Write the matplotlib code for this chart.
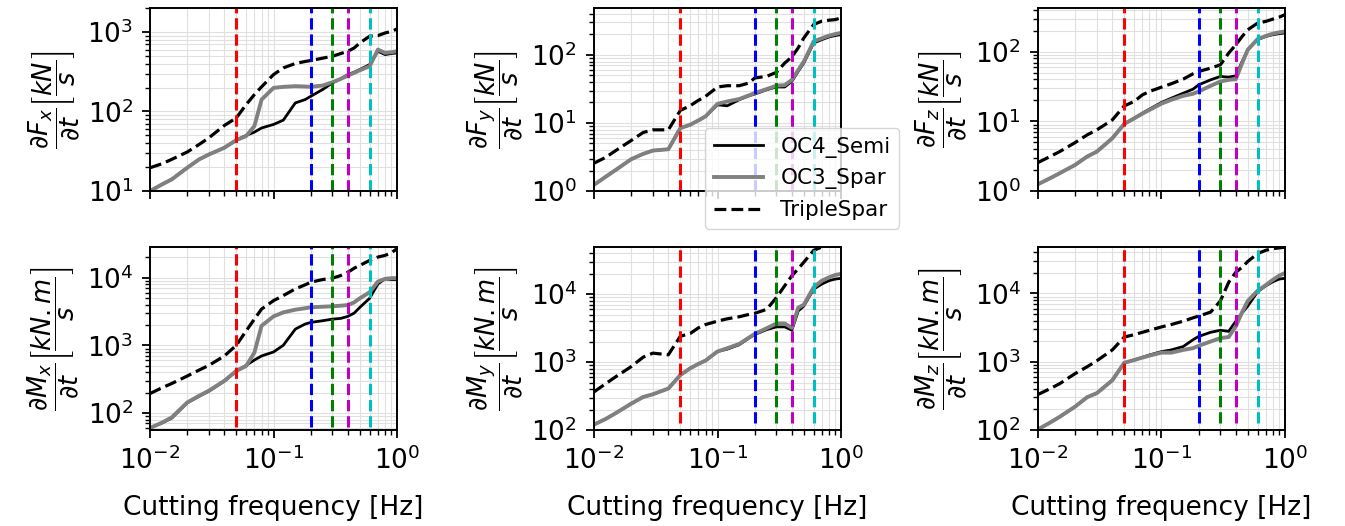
import matplotlib
matplotlib.use("Agg")
import matplotlib.pyplot as plt
import numpy as np

# ---------------- data ----------------
freq = [0.01, 0.0125, 0.015, 0.02, 0.025, 0.03, 0.04, 0.05, 0.06, 0.07, 0.08,
        0.1, 0.12, 0.15, 0.18, 0.2, 0.25, 0.3, 0.35, 0.4, 0.45, 0.5, 0.6,
        0.7, 0.8, 0.9, 1.0]

cut_freqs = [0.05, 0.2, 0.3, 0.4, 0.6]
cut_colors = ['r', 'b', 'g', 'm', 'c']

series_names = ['OC4_Semi', 'OC3_Spar', 'TripleSpar']

# dFx/dt [kN/s]
fx_semi = [10, 12.1, 14, 19.6, 25, 28.8, 35, 43.7, 50, 55, 62, 68.7, 77.8, 128,
           141, 155, 189, 229, 257, 291, 312, 337, 389, 572, 519, 535, 545]
fx_spar = [10, 12.1, 14, 19.6, 25, 28.8, 35, 43.7, 49, 65.5, 141, 198, 204, 208,
           206, 204, 212, 233, 257, 283, 306, 330, 371, 600, 545, 556, 572]
fx_triple = [19.6, 22, 25, 30.9, 38.5, 46.7, 66.7, 83, 122, 163, 204, 291, 353,
             401, 425, 437, 468, 495, 535, 572, 630, 728, 883, 900, 971, 1015, 1091]

# dFy/dt [kN/s]
fy_semi = [1.23, 1.63, 2.04, 2.93, 3.51, 3.93, 4.11, 8.4, 9.4, 10.9, 12.5, 18.5,
           17.9, 22, 25.1, 26.6, 30.8, 33.8, 33.8, 40.9, 57.4, 76.2, 150, 168,
           184, 193, 199]
fy_spar = [1.23, 1.63, 2.04, 2.93, 3.51, 3.93, 4.11, 8.4, 9.4, 10.9, 12.5, 19.1,
           20.7, 22.5, 25.5, 27.5, 31.5, 35.3, 36, 43, 60, 80, 158, 176, 192,
           203, 211]
fy_triple = [2.56, 3.14, 3.93, 5.52, 7.24, 7.93, 7.93, 15.3, 17.9, 21.5, 24.6,
             33.8, 35.3, 35.3, 38.7, 45.8, 48.5, 55.5, 76, 93.5, 127, 178, 280,
             314, 324, 331, 351]

# dFz/dt [kN/s]
fz_semi = [1.25, 1.52, 1.8, 2.37, 3.12, 3.68, 5.72, 9.2, 11.1, 13.1, 15, 18.7,
           21.5, 25.4, 29, 33.5, 39.5, 44.2, 43.2, 45.2, 72.6, 107, 149, 166,
           176, 182, 186]
fz_spar = [1.25, 1.52, 1.8, 2.37, 3.12, 3.68, 5.72, 9.2, 11.0, 12.9, 14.6, 18.0,
           20.4, 23.3, 24.9, 26.9, 32.4, 37.4, 39.5, 40.4, 68.7, 107, 152, 169,
           182, 190, 196]
fz_triple = [2.56, 3.12, 3.68, 4.96, 6.39, 7.55, 10.5, 16.7, 19.3, 24, 26.9, 31,
             34.7, 40.5, 48.2, 52.1, 58.2, 65, 95.7, 126, 166, 207, 258, 273,
             295, 315, 341]

# dMx/dt [kN.m/s]
mx_semi = [60, 71, 84, 141, 177, 210, 296, 417, 507, 608, 698, 800, 1005, 1740,
           2070, 2190, 2320, 2450, 2510, 2690, 3010, 3660, 4980, 8140, 9660,
           9440, 9440]
mx_spar = [60, 72, 86, 143, 180, 214, 300, 420, 496, 782, 1950, 2690, 3080, 3380,
           3550, 3660, 3740, 3790, 3870, 3960, 4340, 4980, 6120, 8810, 9660,
           9890, 9890]
mx_triple = [194, 236, 273, 352, 432, 507, 698, 1005, 1640, 2450, 3450, 4600,
             5460, 6860, 7870, 8610, 9440, 9890, 10800, 12100, 13900, 15300,
             18100, 20300, 21500, 23500, 27000]

# dMy/dt [kN.m/s]
my_semi = [120, 146, 177, 244, 306, 336, 408, 644, 809, 939, 1053, 1433, 1552,
           1800, 2260, 2540, 3010, 3300, 3300, 2950, 5650, 6700, 11860, 14100,
           15800, 16700, 17100]
my_spar = [120, 146, 177, 244, 306, 336, 408, 644, 809, 939, 1053, 1433, 1600,
           1850, 2300, 2600, 3150, 3700, 3700, 3190, 6320, 7000, 12600, 15800,
           17700, 19200, 19900]
my_triple = [364, 484, 608, 857, 1180, 1355, 1280, 2400, 2630, 3190, 3570, 4010,
             4340, 4650, 5040, 5210, 5980, 8910, 13300, 18700, 23600, 29600,
             44100, 49500, 52000, 52000, 52000]

# dMz/dt [kN.m/s]
mz_semi = [102, 128, 156, 220, 302, 347, 535, 966, 1059, 1160, 1256, 1408, 1490,
           1670, 2100, 2350, 2700, 2890, 2790, 3930, 5220, 6560, 10600, 13000,
           14900, 16300, 16700]
mz_spar = [102, 128, 156, 220, 302, 347, 535, 966, 1059, 1150, 1230, 1360, 1360,
           1490, 1580, 1710, 1980, 2220, 2300, 3310, 5350, 7780, 10970, 13300,
           15950, 18300, 20000]
mz_triple = [331, 402, 477, 671, 844, 1035, 1490, 2300, 2490, 2700, 2890, 3240,
             3510, 3930, 4400, 4660, 5340, 7780, 14600, 20500, 24300, 29500,
             38400, 43000, 45500, 46600, 47700]

panel_data = [
    (fx_semi, fx_spar, fx_triple),
    (fy_semi, fy_spar, fy_triple),
    (fz_semi, fz_spar, fz_triple),
    (mx_semi, mx_spar, mx_triple),
    (my_semi, my_spar, my_triple),
    (mz_semi, mz_spar, mz_triple),
]

ylabels = [
    r'$\dfrac{\partial F_x}{\partial t}\left[\dfrac{kN}{s}\right]$',
    r'$\dfrac{\partial F_y}{\partial t}\left[\dfrac{kN}{s}\right]$',
    r'$\dfrac{\partial F_z}{\partial t}\left[\dfrac{kN}{s}\right]$',
    r'$\dfrac{\partial M_x}{\partial t}\left[\dfrac{kN.m}{s}\right]$',
    r'$\dfrac{\partial M_y}{\partial t}\left[\dfrac{kN.m}{s}\right]$',
    r'$\dfrac{\partial M_z}{\partial t}\left[\dfrac{kN.m}{s}\right]$',
]
ylims = [(10, 2000), (1, 490), (1, 425), (56, 28600), (100, 49500), (100, 48000)]
vline_bottoms = [0.0, 0.0, 0.0, 0.015, 0.04, 0.04]
xlabel = 'Cutting frequency [Hz]'

# ---------------- plot ----------------
FS = 19
plt.rcParams['font.size'] = FS
plt.rcParams['mathtext.fontset'] = 'dejavusans'

fig, axes = plt.subplots(2, 3, figsize=(13.45, 5.26), dpi=100, sharex=True)
fig.subplots_adjust(left=150/1345, right=1285/1345, top=1-8/526,
                    bottom=1-430/526, wspace=0.797, hspace=0.306)

styles = [dict(color='k', lw=2.0, ls='-'),
          dict(color='0.5', lw=2.8, ls='-'),
          dict(color='k', lw=2.3, ls='--')]

for i, ax in enumerate(axes.flat):
    for name, vals, st in zip(series_names, panel_data[i], styles):
        ax.plot(freq, vals, label=name, **st)
    for cf, cc in zip(cut_freqs, cut_colors):
        ax.axvline(cf, ymin=vline_bottoms[i], ymax=1, color=cc, ls='--', lw=2.2)
    ax.set_xscale('log')
    ax.set_yscale('log')
    ax.set_xlim(0.01, 1)
    ax.set_ylim(*ylims[i])
    ax.grid(True, which='both', color='#e0e0e0', lw=0.8)
    ax.set_axisbelow(True)
    ax.set_ylabel(ylabels[i], fontsize=18.5, labelpad=4)
    ax.tick_params(which='major', length=6, width=1.3, labelsize=FS, pad=6)
    ax.tick_params(which='minor', length=3.5, width=1.0)
    for sp in ax.spines.values():
        sp.set_linewidth(1.4)
    if i >= 3:
        ax.set_xlabel(xlabel, fontsize=FS, labelpad=14)

axes[0, 1].legend(loc='upper left', bbox_to_anchor=(705/1345, 1-128/526),
                  bbox_transform=fig.transFigure, fontsize=15.5,
                  framealpha=0.8, borderaxespad=0, handlelength=2.3)

fig.savefig('out.png', dpi=100)
